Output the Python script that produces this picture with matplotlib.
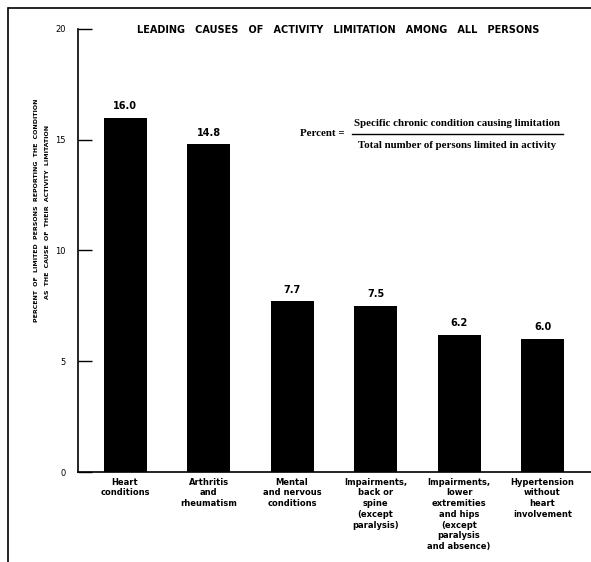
import matplotlib
matplotlib.use("Agg")
import matplotlib.pyplot as plt
from matplotlib.lines import Line2D

# donnees
causes = ["Heart\nconditions",
          "Arthritis\nand\nrheumatism",
          "Mental\nand nervous\nconditions",
          "Impairments,\nback or\nspine\n(except\nparalysis)",
          "Impairments,\nlower\nextremities\nand hips\n(except\nparalysis\nand absence)",
          "Hypertension\nwithout\nheart\ninvolvement"]
pourcent = [16.0, 14.8, 7.7, 7.5, 6.2, 6.0]
yticks = [0, 5, 10, 15, 20]

fig = plt.figure(figsize=(5.91, 5.62), dpi=100)
ax = fig.add_axes([78/591, 1-472/562, 1-78/591, (472-29)/562])

x = list(range(len(causes)))
ax.bar(x, pourcent, width=0.515, color="black")
ax.set_xlim(-0.563, 5.58)
ax.set_ylim(0, 20)

for xi, v in zip(x, pourcent):
    ax.text(xi, v + 0.3, "%.1f" % v, ha="center", va="bottom", fontsize=7, fontweight="bold")

ax.spines["top"].set_visible(False)
ax.spines["right"].set_visible(False)
ax.spines["left"].set_linewidth(1.2)
ax.spines["bottom"].set_linewidth(1.2)
ax.set_yticks(yticks)
ax.set_yticklabels([str(t) for t in yticks], fontsize=6)
ax.tick_params(axis="y", direction="in", length=10, width=1.0, pad=9)
ax.set_xticks(x)
ax.set_xticklabels(causes, fontsize=6, fontweight="bold", linespacing=1.25)
ax.tick_params(axis="x", length=0, pad=4)

# titre
fig.text(338/591, 1-30/562, "LEADING   CAUSES   OF   ACTIVITY   LIMITATION   AMONG   ALL   PERSONS",
         ha="center", va="center", fontsize=7, fontweight="bold")

# titre de l'axe y sur deux lignes
fig.text(37/591, 1-210/562, "PERCENT  OF  LIMITED  PERSONS  REPORTING  THE  CONDITION",
         rotation=90, ha="center", va="center", fontsize=4.5, fontweight="bold")
fig.text(48/591, 1-212/562, "AS  THE  CAUSE  OF  THEIR  ACTIVITY  LIMITATION",
         rotation=90, ha="center", va="center", fontsize=4.5, fontweight="bold")

# formule
fig.text(300/591, 1-134/562, "Percent =", ha="left", va="center",
         fontsize=7.8, family="Liberation Serif", fontweight="bold")
fig.text(457/591, 1-124/562, "Specific chronic condition causing limitation", ha="center", va="center",
         fontsize=7.8, family="Liberation Serif", fontweight="bold")
fig.text(457/591, 1-145/562, "Total number of persons limited in activity", ha="center", va="center",
         fontsize=7.8, family="Liberation Serif", fontweight="bold")
fig.add_artist(Line2D([352/591, 563/591], [1-134/562, 1-134/562], color="black", lw=1.0))

# cadre de la page
fig.add_artist(Line2D([9/591, 591/591], [1-8/562, 1-8/562], color="black", lw=1.2))
fig.add_artist(Line2D([8/591, 8/591], [1-8/562, 0], color="black", lw=1.2))

plt.savefig("out.png", dpi=100)
